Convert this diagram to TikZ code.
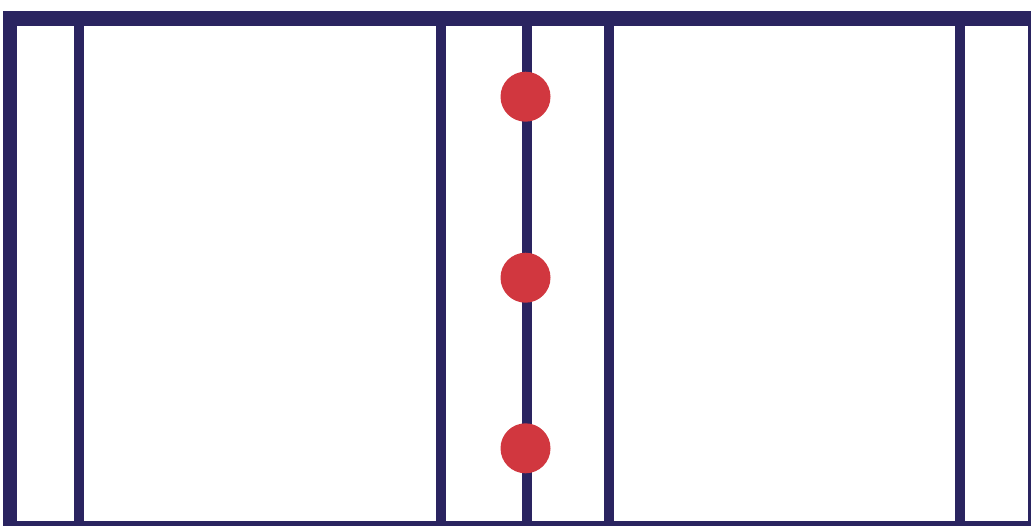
\documentclass[tikz,border=0pt]{standalone}
\definecolor{navy}{RGB}{42,36,96}
\definecolor{dotred}{RGB}{209,55,63}
\begin{document}
\begin{tikzpicture}[x=1pt,y=-1pt,
  bar/.style={fill=navy},
  dot/.style={circle,fill=dotred,minimum size=50pt,inner sep=0pt}]
\useasboundingbox (0,0) rectangle (1031,525);
\clip (0,0) rectangle (1031,525);
% top bar
\fill[bar] (2.7,11) rectangle (1035,25.7);
% left thick bar
\fill[bar] (2.7,11) rectangle (17.3,530);
% bottom line
\fill[bar] (2.7,521) rectangle (1035,530);
% right edge
\fill[bar] (1027.5,11) rectangle (1035,530);
% verticals
\foreach \cx in {79,440.7,526.7,609,959.7}
  \fill[bar] (\cx-5,20) rectangle (\cx+5,522);
% dots
\node[dot] (d1) at (525.5,96.7) {};
\node[dot] (d2) at (525.5,277.7) {};
\node[dot] (d3) at (525.5,448.3) {};
\end{tikzpicture}
\end{document}
